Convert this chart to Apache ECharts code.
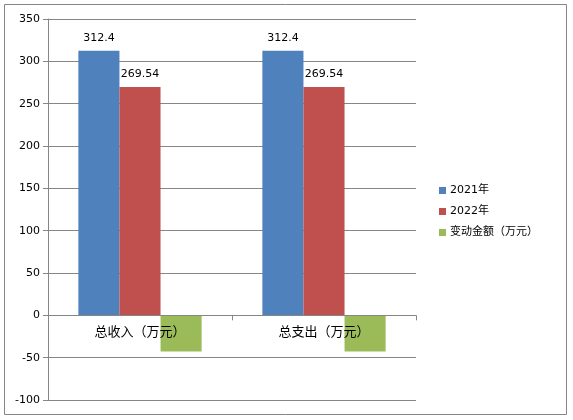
<!DOCTYPE html>
<html>
<head>
<meta charset="utf-8">
<style>html,body{margin:0;padding:0;background:#fff;}#c{width:573px;height:420px;}</style>
<script src="https://cdn.jsdelivr.net/npm/echarts@6/dist/echarts.min.js"></script>
</head>
<body>
<div id="c"></div>
<script>
const categories = ['总收入（万元）', '总支出（万元）'];
const seriesNames = ['2021年', '2022年', '变动金额（万元）'];
const values2021 = [312.4, 312.4];
const values2022 = [269.54, 269.54];
const valuesChange = [-42.86, -42.86];
const yTicks = { min: -100, max: 350, interval: 50 };

const FONT = '"DejaVu Sans", "Noto Sans CJK SC", sans-serif';
const GRAY = '#868686';
const colors = ['#4F81BD', '#C0504D', '#9BBB59'];

const gridTop = 19, gridBottomPx = 400;
// distance from grid bottom to the zero line, computed through the axis range
const zeroOffset = (gridBottomPx - gridTop) * (0 - yTicks.min) / (yTicks.max - yTicks.min);

const chart = echarts.init(document.getElementById('c'), null, { renderer: 'canvas' });
const labelCfg = { show: true, position: 'top', distance: 7, color: '#000', fontSize: 11, fontFamily: FONT };
chart.setOption({
  animation: false,
  color: colors,
  textStyle: { fontFamily: FONT },
  graphic: [{
    type: 'rect', shape: { x: 4.5, y: 4.5, width: 562, height: 410 },
    style: { fill: 'none', stroke: GRAY, lineWidth: 1 }, silent: true, z: -1
  }],
  grid: { left: 48, top: gridTop, right: 157, bottom: 420 - gridBottomPx, containLabel: false },
  legend: {
    orient: 'vertical', left: 434, top: 180,
    itemWidth: 7, itemHeight: 7, itemGap: 10,
    icon: 'rect',
    textStyle: { fontSize: 11, color: '#000', fontFamily: FONT, padding: [0, 0, 0, -1] },
    data: seriesNames
  },
  xAxis: {
    type: 'category', data: categories,
    offset: -zeroOffset,
    z: 10,
    axisLine: { onZero: false, lineStyle: { color: GRAY, width: 1 } },
    axisTick: { show: true, length: 5, lineStyle: { color: GRAY } },
    axisLabel: { color: '#000', fontSize: 13, margin: 11, fontFamily: FONT }
  },
  yAxis: {
    type: 'value', min: yTicks.min, max: yTicks.max, interval: yTicks.interval,
    axisLine: { show: true, lineStyle: { color: GRAY, width: 1 } },
    axisTick: { show: true, length: 5, lineStyle: { color: GRAY } },
    splitLine: { show: true, lineStyle: { color: GRAY, width: 1 } },
    axisLabel: { color: '#000', fontSize: 11, margin: 8, fontFamily: FONT }
  },
  series: [
    { name: seriesNames[0], type: 'bar', data: values2021, barGap: '0%', barCategoryGap: '33%', label: labelCfg },
    { name: seriesNames[1], type: 'bar', data: values2022, barGap: '0%', barCategoryGap: '33%', label: labelCfg },
    { name: seriesNames[2], type: 'bar', data: valuesChange, barGap: '0%', barCategoryGap: '33%', label: { show: false } }
  ]
});
</script>
</body>
</html>
